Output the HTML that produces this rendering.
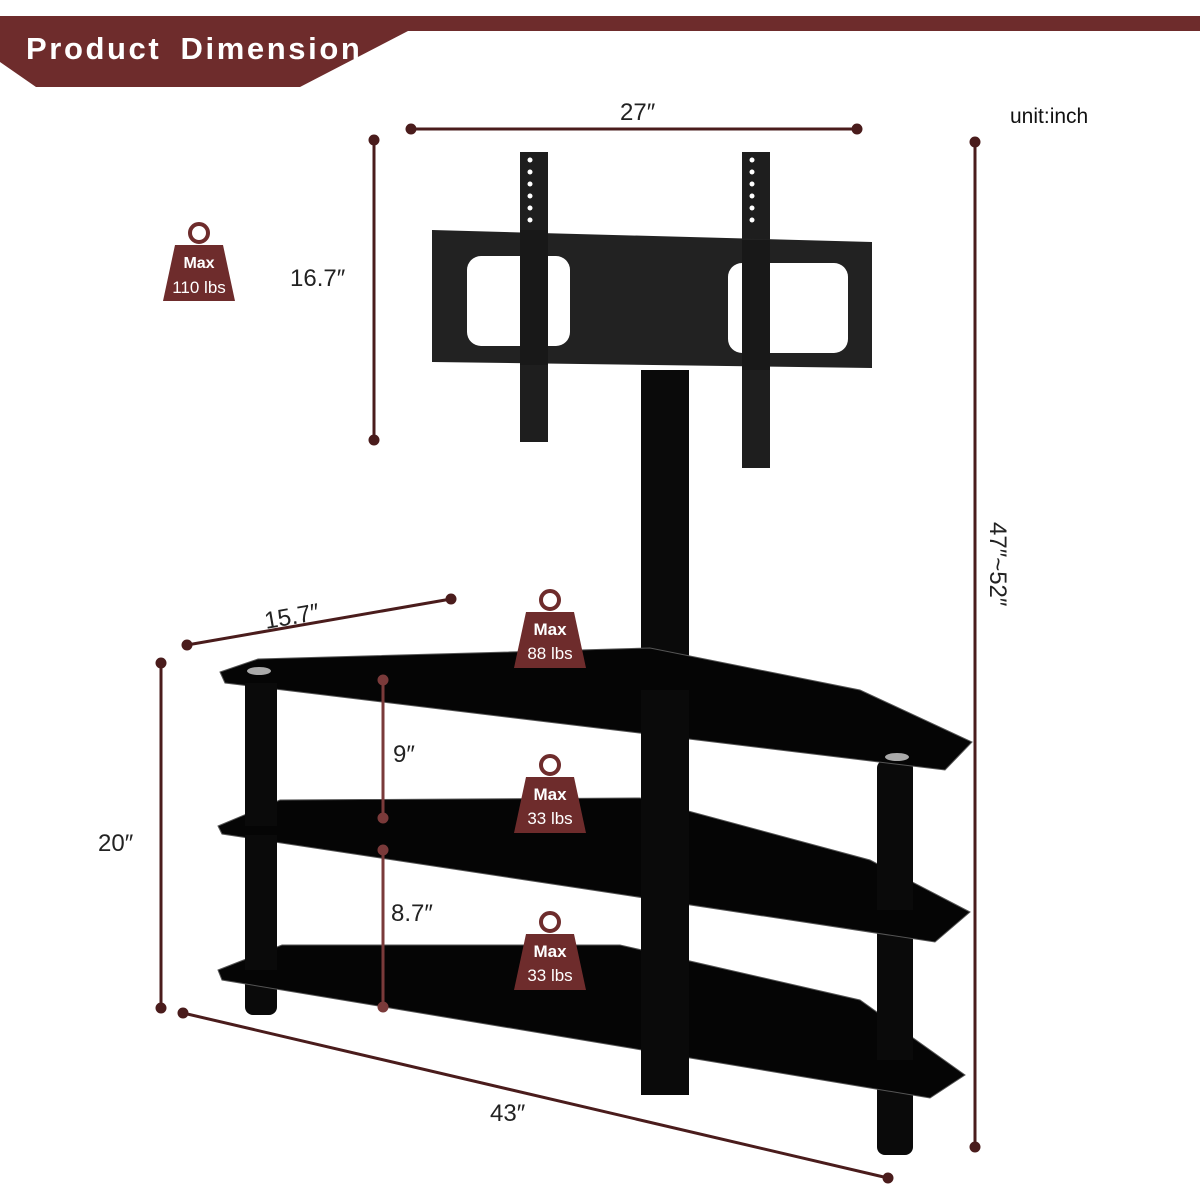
<!DOCTYPE html>
<html><head><style>body{margin:0;background:#fff}svg{display:block}</style></head><body>
<svg width="1200" height="1200" viewBox="0 0 1200 1200" xmlns="http://www.w3.org/2000/svg" font-family="Liberation Sans, sans-serif">
<defs>
<g id="wt"><circle cx="0" cy="-12" r="9" fill="none" stroke="#6e2c2c" stroke-width="4"/><polygon points="-24,0 24,0 36,56 -36,56" fill="#6e2c2c"/></g>
</defs>
<polygon points="0,16 1200,16 1200,31 408,31 300,87 36,87 0,62" fill="#6e2c2c"/>
<text x="26" y="59" font-size="31" font-weight="bold" fill="#fff" letter-spacing="2.6" word-spacing="8">Product Dimension</text>
<text x="1010" y="123" font-size="21" fill="#111">unit:inch</text>
<g stroke="#4a1c1c" stroke-width="3" fill="#4a1c1c">
<line x1="411" y1="129" x2="857" y2="129"/><circle cx="411" cy="129" r="4"/><circle cx="857" cy="129" r="4"/>
<line x1="374" y1="140" x2="374" y2="440"/><circle cx="374" cy="140" r="4"/><circle cx="374" cy="440" r="4"/>
<line x1="975" y1="142" x2="975" y2="1147"/><circle cx="975" cy="142" r="4"/><circle cx="975" cy="1147" r="4"/>
<line x1="187" y1="645" x2="451" y2="599"/><circle cx="187" cy="645" r="4"/><circle cx="451" cy="599" r="4"/>
<line x1="161" y1="663" x2="161" y2="1008"/><circle cx="161" cy="663" r="4"/><circle cx="161" cy="1008" r="4"/>
<line x1="183" y1="1013" x2="888" y2="1178"/><circle cx="183" cy="1013" r="4"/><circle cx="888" cy="1178" r="4"/>
</g>
<g fill="#222" font-size="24">
<text x="620" y="120">27″</text>
<text x="290" y="286">16.7″</text>
<text x="98" y="851">20″</text>
<text x="490" y="1121">43″</text>
<text x="266" y="629" transform="rotate(-10 266 629)">15.7″</text>
<text transform="translate(990,522) rotate(90)">47″~52″</text>
</g>
<!-- pole -->
<rect x="641" y="370" width="48" height="725" fill="#0a0a0a"/>
<!-- mount -->
<rect x="520" y="152" width="28" height="290" fill="#1e1e1e"/>
<rect x="742" y="152" width="28" height="316" fill="#1e1e1e"/>
<polygon points="432,230 872,242 872,368 432,362" fill="#222"/>
<rect x="467" y="256" width="103" height="90" rx="14" fill="#fff"/>
<rect x="728" y="263" width="120" height="90" rx="14" fill="#fff"/>
<rect x="520" y="230" width="28" height="135" fill="#181818"/>
<rect x="742" y="240" width="28" height="130" fill="#181818"/>
<g fill="#fff"><circle cx="530" cy="160" r="2.5"/><circle cx="530" cy="172" r="2.5"/><circle cx="530" cy="184" r="2.5"/><circle cx="530" cy="196" r="2.5"/><circle cx="530" cy="208" r="2.5"/><circle cx="530" cy="220" r="2.5"/>
<circle cx="752" cy="160" r="2.5"/><circle cx="752" cy="172" r="2.5"/><circle cx="752" cy="184" r="2.5"/><circle cx="752" cy="196" r="2.5"/><circle cx="752" cy="208" r="2.5"/><circle cx="752" cy="220" r="2.5"/></g>
<!-- legs -->
<rect x="245" y="675" width="32" height="340" rx="8" fill="#0a0a0a"/>
<rect x="877" y="760" width="36" height="395" rx="8" fill="#0a0a0a"/>
<!-- shelves -->
<polygon points="220,672 258,659 650,648 860,690 972,742 945,770 225,683" fill="#050505" stroke="#555" stroke-width="1"/>
<polygon points="218,826 280,800 640,798 870,860 970,912 935,942 222,834" fill="#050505" stroke="#555" stroke-width="1"/>
<polygon points="218,970 282,945 620,945 860,1000 965,1075 930,1098 222,980" fill="#050505" stroke="#555" stroke-width="1"/>
<rect x="245" y="683" width="32" height="143" fill="#0a0a0a"/>
<rect x="245" y="835" width="32" height="135" fill="#0a0a0a"/>
<rect x="877" y="770" width="36" height="140" fill="#0a0a0a"/>
<rect x="877" y="940" width="36" height="120" fill="#0a0a0a"/>
<rect x="641" y="690" width="48" height="405" fill="#0a0a0a"/>
<ellipse cx="259" cy="671" rx="12" ry="4" fill="#aaa"/>
<ellipse cx="897" cy="757" rx="12" ry="4" fill="#aaa"/>
<!-- inner dims -->
<g stroke="#7a3a3a" stroke-width="3" fill="#7a3a3a">
<line x1="383" y1="680" x2="383" y2="818"/><circle cx="383" cy="680" r="4"/><circle cx="383" cy="818" r="4"/>
<line x1="383" y1="850" x2="383" y2="1007"/><circle cx="383" cy="850" r="4"/><circle cx="383" cy="1007" r="4"/>
</g>
<g fill="#222" font-size="24"><text x="393" y="762">9″</text><text x="391" y="921">8.7″</text></g>
<!-- weights -->
<g font-weight="bold" fill="#fff" text-anchor="middle">
<use href="#wt" transform="translate(199,245)"/><text x="199" y="268" font-size="16">Max</text><text x="199" y="293" font-size="17" font-weight="normal">110 lbs</text>
<use href="#wt" transform="translate(550,612)"/><text x="550" y="635" font-size="17">Max</text><text x="550" y="659" font-size="17" font-weight="normal">88 lbs</text>
<use href="#wt" transform="translate(550,777)"/><text x="550" y="800" font-size="17">Max</text><text x="550" y="824" font-size="17" font-weight="normal">33 lbs</text>
<use href="#wt" transform="translate(550,934)"/><text x="550" y="957" font-size="17">Max</text><text x="550" y="981" font-size="17" font-weight="normal">33 lbs</text>
</g>
</svg>
</body></html>
